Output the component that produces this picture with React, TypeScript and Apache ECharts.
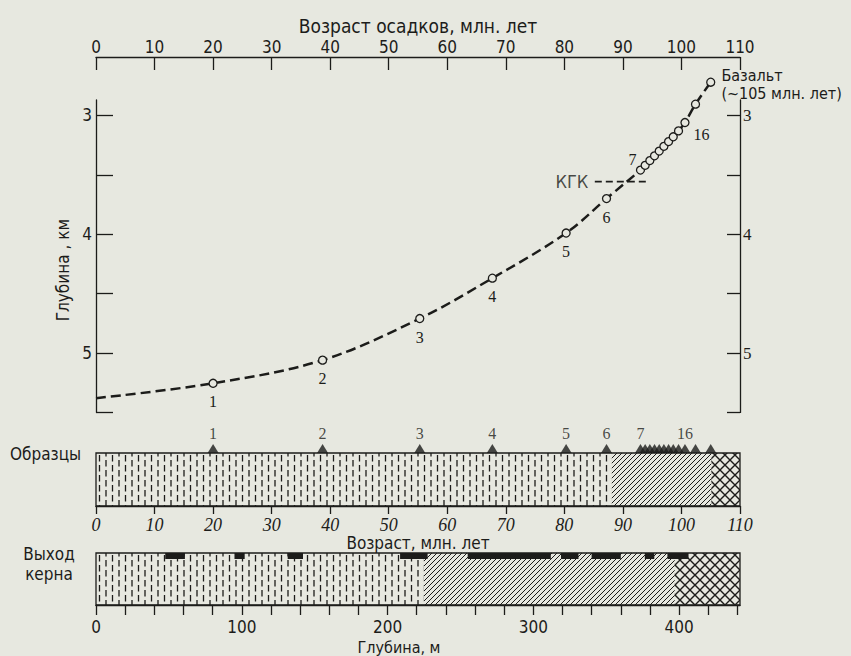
import React, { useEffect, useRef } from 'react';
import * as echarts from 'echarts';

// ---------- data ----------
const ageAxisTicks = [0, 10, 20, 30, 40, 50, 60, 70, 80, 90, 100, 110];
const depthKmTicks = [3, 3.5, 4, 4.5, 5, 5.5];
const depthKmLabels = [3, 4, 5];
const depthMTicks = [0, 20, 40, 60, 80, 100, 120, 140, 160, 180, 200, 220, 240, 260, 280, 300, 320, 340, 360, 380, 400, 420, 440];
const depthMLabels = [0, 100, 200, 300, 400];

// dashed curve start (age 0)
const curveStartAge = 0;
const curveStartDepth = 5.38;

// samples: age (Ma) and depth (km)
const sampleAges = [20.0, 38.7, 55.3, 67.7, 80.3, 87.2, 93.0, 93.8, 94.6, 95.4, 96.2, 97.0, 97.8, 98.6, 99.5, 100.6, 102.4, 105.0];
const sampleDepths = [5.255, 5.06, 4.71, 4.37, 3.99, 3.70, 3.46, 3.42, 3.38, 3.34, 3.30, 3.26, 3.22, 3.18, 3.13, 3.06, 2.905, 2.72];
const sampleLabels = ['1', '2', '3', '4', '5', '6', '7', '', '', '', '', '', '', '', '', '16', '', ''];
const basaltLabel = 'Базальт\n(~105 млн. лет)';

// carbonate compensation depth
const kgkDepth = 3.557;
const kgkAges = [85.2, 94.3];

// lithology along age and along depth: [start, end, patternIndex]
const lithAgeStart = [0, 88.1, 105.1];
const lithAgeEnd = [88.1, 105.1, 110];
const lithDepthStart = [0, 225, 397];
const lithDepthEnd = [225, 397, 441.8];
const lithPattern = [0, 1, 2];
const depthAxisMax = 441.8;

// core recovery intervals (m)
const coreStart = [47.5, 95.0, 131.5, 208.6, 255, 319, 340, 376.5, 392];
const coreEnd = [61.0, 102.0, 142.0, 227.5, 312, 331, 360, 383, 406.5];

// ---------- styles ----------
const INK = '#1c1c1a';
const BG = '#e7e8e0';
const SANS = "'DejaVu Sans Condensed', 'DejaVu Sans', sans-serif";
const SERIF = "'Liberation Serif', 'DejaVu Serif', serif";

function makePattern(kind: number) {
  const c = document.createElement('canvas');
  let w = 13, h = 10;
  if (kind === 1) { w = 5; h = 5; }
  if (kind === 2) { w = 10; h = 10; }
  c.width = w; c.height = h;
  const ctx = c.getContext('2d') as CanvasRenderingContext2D;
  ctx.strokeStyle = INK;
  ctx.beginPath();
  if (kind === 0) {
    ctx.lineWidth = 1.3;
    ctx.moveTo(2, 0); ctx.lineTo(2, 6.5);
    ctx.moveTo(8.5, 5); ctx.lineTo(8.5, 10);
    ctx.moveTo(8.5, 0); ctx.lineTo(8.5, 1.5);
  } else if (kind === 1) {
    ctx.lineWidth = 1;
    ctx.moveTo(-1, 6); ctx.lineTo(6, -1);
    ctx.moveTo(-1, 1); ctx.lineTo(1, -1);
    ctx.moveTo(4, 6); ctx.lineTo(6, 4);
  } else {
    ctx.lineWidth = 1.4;
    ctx.moveTo(-1, 11); ctx.lineTo(11, -1);
    ctx.moveTo(-1, -1); ctx.lineTo(11, 11);
  }
  ctx.stroke();
  return { image: c, repeat: 'repeat', imageWidth: w, imageHeight: h };
}

export default function App() {
  const ref = useRef<HTMLDivElement>(null);

  useEffect(() => {
    document.body.style.margin = '0';
    document.body.style.background = BG;
    if (!ref.current) return;
    const chart = echarts.init(ref.current, null, { renderer: 'svg' });
    const patterns = [makePattern(0), makePattern(1), makePattern(2)];

    const curveData = [[curveStartAge, curveStartDepth]].concat(
      sampleAges.map((a, i) => [a, sampleDepths[i]])
    );

    const sampleData = sampleAges.map((a, i) => {
      const lbl = sampleLabels[i];
      const item: any = { value: [a, sampleDepths[i]] };
      if (i === sampleAges.length - 1) {
        item.label = {
          show: true, position: 'right', distance: 6, offset: [0, 2],
          formatter: basaltLabel, fontFamily: SANS, fontSize: 16, lineHeight: 18, align: 'left', color: INK,
        };
      } else if (lbl === '7') {
        item.label = { show: true, position: 'top', distance: 0, offset: [-8, 2], formatter: lbl };
      } else if (lbl === '16') {
        item.label = { show: true, position: 'right', distance: 4, offset: [0, 12], formatter: lbl };
      } else if (lbl) {
        item.label = { show: true, position: 'bottom', distance: 6, formatter: lbl };
      }
      return item;
    });

    const triData = sampleAges.map((a, i) => ({
      value: [a, 1],
      label: sampleLabels[i] ? { show: true, formatter: sampleLabels[i] } : { show: false },
    }));

    const lithRender = (params: any, api: any) => {
      const p0 = api.coord([api.value(0), 1]);
      const p1 = api.coord([api.value(1), 0]);
      return {
        type: 'rect',
        shape: { x: p0[0], y: p0[1], width: p1[0] - p0[0], height: p1[1] - p0[1] },
        style: { fill: patterns[api.value(2)] as any, stroke: null },
      };
    };

    const coreRender = (params: any, api: any) => {
      const p0 = api.coord([api.value(0), 1]);
      const p1 = api.coord([api.value(1), 1]);
      return {
        type: 'rect',
        shape: { x: p0[0], y: p0[1], width: p1[0] - p0[0], height: 6 },
        style: { fill: INK },
      };
    };

    const axisLine = { show: true, lineStyle: { color: INK, width: 1.3 } };

    chart.setOption({
      animation: false,
      backgroundColor: BG,
      textStyle: { fontFamily: SANS, color: INK },
      grid: [
        { left: 96, right: 111, top: 100, height: 312.4 },
        { left: 96, right: 111, top: 453, height: 53, show: true, borderColor: INK, borderWidth: 1.3, backgroundColor: 'transparent' },
        { left: 96, right: 111, top: 553, height: 52, show: true, borderColor: INK, borderWidth: 1.3, backgroundColor: 'transparent' },
      ],
      xAxis: [
        {
          gridIndex: 0, type: 'value', min: 0, max: 110, interval: 10, position: 'top', offset: 43,
          axisLine, axisTick: { show: true, inside: true, length: 13, lineStyle: { color: INK, width: 1.3 } },
          axisLabel: { margin: 2, fontFamily: SANS, fontSize: 17, color: INK, customValues: ageAxisTicks },
          splitLine: { show: false },
          name: 'Возраст осадков, млн. лет', nameLocation: 'middle', nameGap: 22,
          nameTextStyle: { fontFamily: SANS, fontSize: 19, color: INK },
        },
        {
          gridIndex: 1, type: 'value', min: 0, max: 110, interval: 10, position: 'bottom',
          axisLine, axisTick: { show: true, length: 8, lineStyle: { color: INK, width: 1.3 } },
          axisLabel: { margin: 10, fontFamily: SERIF, fontStyle: 'italic', fontSize: 18, color: INK },
          splitLine: { show: false },
          name: 'Возраст, млн. лет', nameLocation: 'middle', nameGap: 26,
          nameTextStyle: { fontFamily: SANS, fontSize: 17, color: INK },
        },
        {
          gridIndex: 2, type: 'value', min: 0, max: depthAxisMax, position: 'bottom',
          axisLine, axisTick: { show: true, length: 10, customValues: depthMTicks, lineStyle: { color: INK, width: 1.3 } },
          axisLabel: { margin: 13, fontFamily: SANS, fontSize: 17, color: INK, customValues: depthMLabels },
          splitLine: { show: false },
          name: 'Глубина, м', nameLocation: 'middle', nameGap: 34,
          nameTextStyle: { fontFamily: SANS, fontSize: 16, color: INK, padding: [0, 38, 0, 0] },
        },
      ],
      yAxis: [
        {
          gridIndex: 0, type: 'value', inverse: true, min: 2.87, max: 5.5, position: 'left',
          axisLine, axisTick: { show: true, inside: true, length: 17, customValues: depthKmTicks, lineStyle: { color: INK, width: 1.3 } },
          axisLabel: { margin: 4, fontFamily: SANS, fontSize: 17, color: INK, customValues: depthKmLabels },
          splitLine: { show: false },
          name: 'Глубина , км', nameLocation: 'middle', nameGap: 21,
          nameTextStyle: { fontFamily: SANS, fontSize: 17, color: INK, padding: [0, 28, 0, 0] },
        },
        {
          gridIndex: 0, type: 'value', inverse: true, min: 2.87, max: 5.5, position: 'right',
          axisLine, axisTick: { show: true, inside: true, length: 13, customValues: depthKmTicks, lineStyle: { color: INK, width: 1.3 } },
          axisLabel: { margin: 3, fontFamily: SERIF, fontSize: 17, color: INK, customValues: depthKmLabels },
          splitLine: { show: false },
        },
        { gridIndex: 1, type: 'value', min: 0, max: 1, show: false },
        { gridIndex: 2, type: 'value', min: 0, max: 1, show: false },
      ],
      series: [
        {
          type: 'line', xAxisIndex: 0, yAxisIndex: 0, data: curveData, smooth: 0.35, symbol: 'none', clip: false,
          lineStyle: { color: INK, width: 2.5, type: [10, 5] }, z: 2,
        },
        {
          type: 'scatter', xAxisIndex: 0, yAxisIndex: 0, data: sampleData, symbol: 'circle', symbolSize: 8, clip: false,
          itemStyle: { color: BG, borderColor: INK, borderWidth: 1.3, opacity: 1 },
          label: { show: false, fontFamily: SERIF, fontSize: 16, color: INK },
          z: 3,
        },
        {
          type: 'line', xAxisIndex: 0, yAxisIndex: 0, data: kgkAges.map((a) => [a, kgkDepth]), symbol: 'none', clip: false,
          lineStyle: { color: INK, width: 1.6, type: [7, 4] }, z: 2,
        },
        {
          type: 'scatter', xAxisIndex: 0, yAxisIndex: 0, data: [[kgkAges[0], kgkDepth]], symbol: 'circle', symbolSize: 1,
          itemStyle: { color: 'rgba(0,0,0,0)' }, clip: false,
          label: { show: true, position: 'left', distance: 6, formatter: 'КГК', fontFamily: SANS, fontSize: 18, color: INK },
        },
        {
          type: 'custom', xAxisIndex: 1, yAxisIndex: 2, renderItem: lithRender,
          data: lithAgeStart.map((s, i) => [s, lithAgeEnd[i], lithPattern[i]]), z: 1,
        },
        {
          type: 'scatter', xAxisIndex: 1, yAxisIndex: 2, data: triData, symbol: 'triangle', symbolSize: [11, 9],
          symbolOffset: [0, -4.5], clip: false, itemStyle: { color: INK },
          label: { position: 'top', distance: 3, fontFamily: SERIF, fontSize: 16, color: INK }, z: 3,
        },
        {
          type: 'custom', xAxisIndex: 2, yAxisIndex: 3, renderItem: lithRender,
          data: lithDepthStart.map((s, i) => [s, lithDepthEnd[i], lithPattern[i]]), z: 1,
        },
        {
          type: 'custom', xAxisIndex: 2, yAxisIndex: 3, renderItem: coreRender,
          data: coreStart.map((s, i) => [s, coreEnd[i]]), z: 3,
        },
      ],
      graphic: [
        {
          type: 'text', left: 10, top: 445,
          style: { text: 'Образцы', fontFamily: SANS, fontSize: 17, fill: INK },
        },
        {
          type: 'text', x: 49, y: 544,
          style: { text: 'Выход\nкерна', fontFamily: SANS, fontSize: 17, lineHeight: 20, fill: INK, align: 'center' },
        },
      ],
    });

    return () => chart.dispose();
  }, []);

  return <div ref={ref} style={{ width: 851, height: 656, background: BG }} />;
}
